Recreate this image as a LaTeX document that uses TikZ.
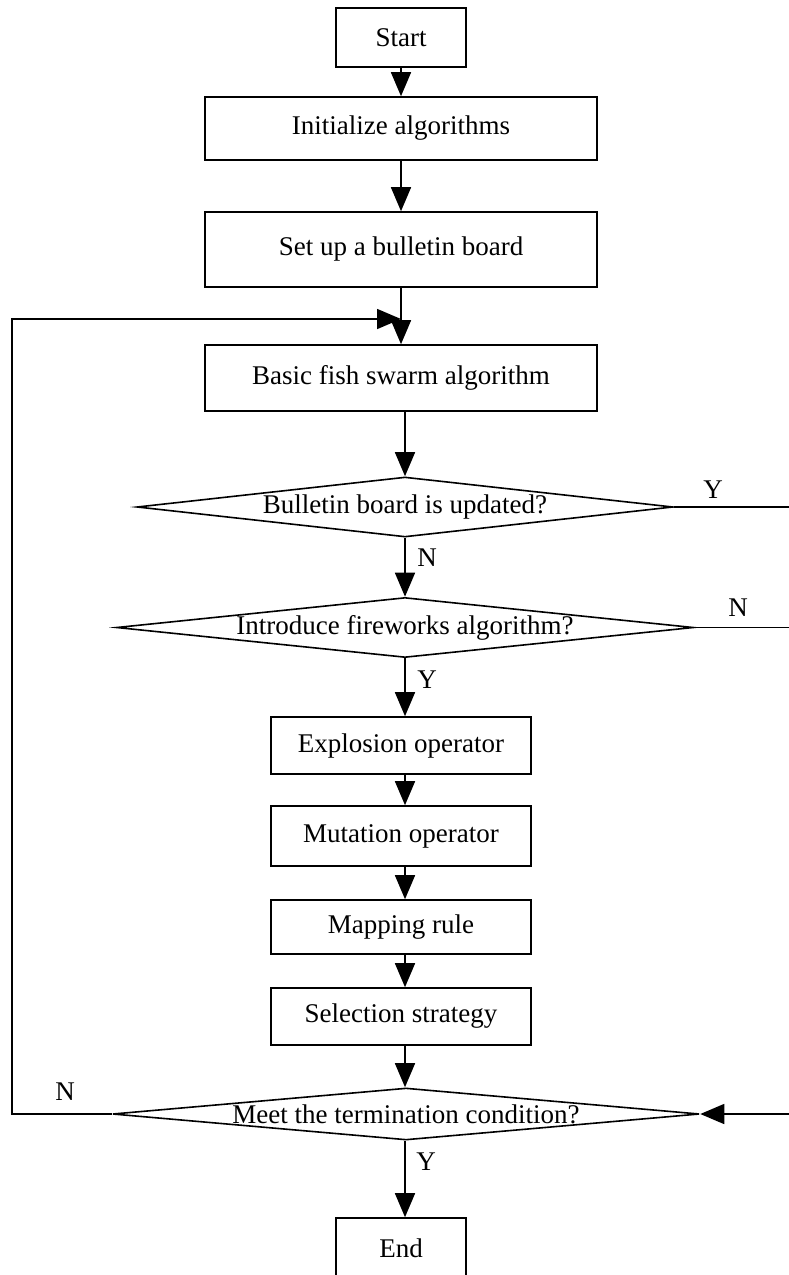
\documentclass[tikz,border=0pt]{standalone}
\usepackage{fontspec}
\setmainfont{Liberation Serif}
\usetikzlibrary{shapes.geometric,arrows.meta}
\tikzset{
  proc/.style={draw, line width=0.8pt, inner sep=0pt, align=center},
  cond/.style={draw, diamond, line width=0.8pt, inner sep=0pt},
  flow/.style={-{Triangle[length=12pt,width=10pt]}, line width=0.8pt},
  tag/.style={inner sep=0pt},
}
\begin{document}
\begin{tikzpicture}[x=0.5pt,y=-0.5pt,font=\fontsize{13.5}{16}\selectfont]
  \useasboundingbox (0,0) rectangle (788,1275);
  \coordinate (axis) at (405,0);
  % main column
  \node[proc, minimum width=65pt, minimum height=29.5pt] (start) at (401,37.5) {Start};
  \node[proc, minimum width=196pt, minimum height=31.5pt] (init) at (401,128.5) {Initialize algorithms};
  \node[proc, minimum width=196pt, minimum height=37.5pt] (board) at (401,249.5) {Set up a bulletin board};
  \node[proc, minimum width=196pt, minimum height=33pt] (basic) at (401,378) {Basic fish swarm algorithm};
  \node[cond, minimum width=268pt, minimum height=30pt,
    label=center:{Bulletin board is updated?}] (dec1) at (405,507) {};
  \node[cond, minimum width=288.5pt, minimum height=30pt,
    label=center:{Introduce fireworks algorithm?}] (dec2) at (405,627.5) {};
  \node[proc, minimum width=130pt, minimum height=28.5pt] (expl) at (401,745.5) {Explosion operator};
  \node[proc, minimum width=130pt, minimum height=30pt] (mut) at (401,836) {Mutation operator};
  \node[proc, minimum width=130pt, minimum height=27pt] (map) at (401,927) {Mapping rule};
  \node[proc, minimum width=130pt, minimum height=28.5pt] (sel) at (401,1016.5) {Selection strategy};
  \node[cond, minimum width=293.5pt, minimum height=26pt,
    label=center:{Meet the termination condition?}] (dec3) at (406,1114) {};
  \node[proc, minimum width=65pt, minimum height=30pt] (end) at (401,1248) {End};
  % loop and side branches
  \coordinate (join) at (401,319);
  \coordinate (lft) at (12,319);
  \coordinate (rt1) at (790,507);
  \coordinate (rt2) at (790,627.5);
  \coordinate (rt3) at (790,1114);
  % labels
  \node[tag] (y1) at (713,490) {Y};
  \node[tag] (n1) at (427,558) {N};
  \node[tag] (n2) at (738,608) {N};
  \node[tag] (y2) at (427,680) {Y};
  \node[tag] (n3) at (65,1092) {N};
  \node[tag] (y3) at (426,1162) {Y};
  \begin{scope}[flow]
    \draw (start) -- (init);
    \draw (init) -- (board);
    \draw (board) -- (basic);
    \draw (basic.south -| axis) -- (dec1.north);
    \draw (dec1.south) -- (dec2.north);
    \draw (dec2.south) -- (expl.north -| axis);
    \draw (expl.south -| axis) -- (mut.north -| axis);
    \draw (mut.south -| axis) -- (map.north -| axis);
    \draw (map.south -| axis) -- (sel.north -| axis);
    \draw (sel.south -| axis) -- (dec3.north -| axis);
    \draw (dec3.south -| axis) -- (end.north -| axis);
    \draw (dec3.west) -| (lft) -- (join);
    \draw (rt3) -- (dec3.east);
  \end{scope}
  \draw[line width=0.8pt] (dec1.east) -- (rt1);
  \draw[line width=0.8pt] (dec2.east) -- (rt2);
\end{tikzpicture}
\end{document}
